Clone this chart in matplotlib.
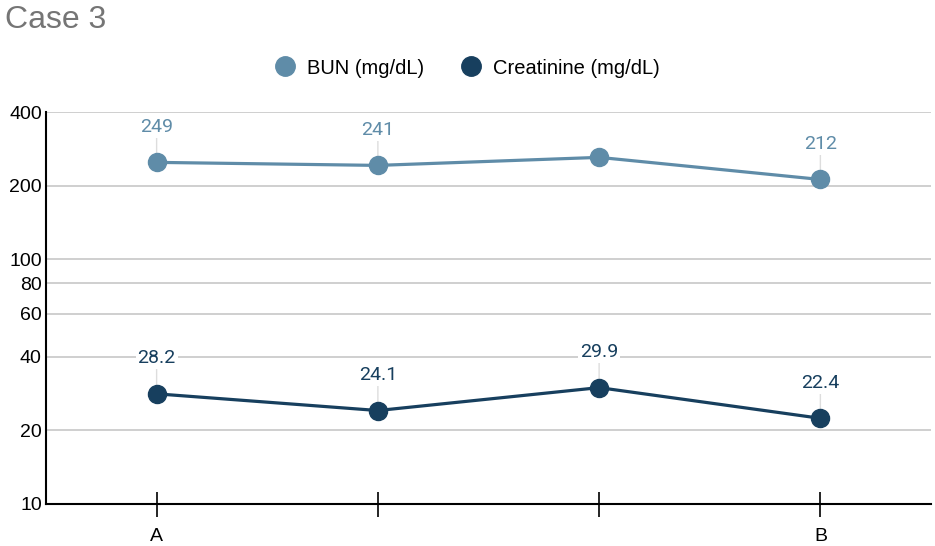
import matplotlib
matplotlib.use("Agg")
import matplotlib.pyplot as plt
from matplotlib.ticker import FixedLocator, NullLocator

# chart data
categories = ["A", "", "", "B"]
bun = [249, 242, 261, 212]
creatinine = [28.2, 24.1, 29.9, 22.4]
bun_labels = ["249", "241", "", "212"]
creatinine_labels = ["28.2", "24.1", "29.9", "22.4"]
y_ticks = [10, 20, 40, 60, 80, 100, 200, 400]

bun_color = "#5f8ca8"
creat_color = "#173f5e"

fig = plt.figure(figsize=(9.35, 5.46), dpi=100)
ax = fig.add_axes([46 / 935, 1 - 504 / 546, (931 - 46) / 935, (504 - 112) / 546])

x = list(range(len(categories)))

ax.plot(x, bun, color=bun_color, linewidth=2.3, marker="o", markersize=13,
        markeredgecolor=bun_color, label="BUN (mg/dL)", zorder=4)
ax.plot(x, creatinine, color=creat_color, linewidth=2.3, marker="o", markersize=13,
        markeredgecolor=creat_color, label="Creatinine (mg/dL)", zorder=4)

# data labels with a thin leader line
for series, labels, color in [(bun, bun_labels, bun_color),
                              (creatinine, creatinine_labels, creat_color)]:
    for xi, val, lab in zip(x, series, labels):
        if not lab:
            continue
        ax.annotate("", xy=(xi, val), xytext=(0, 18), textcoords="offset points",
                    arrowprops=dict(arrowstyle="-", color="#dddddd", lw=1,
                                    shrinkA=0, shrinkB=6), zorder=3)
        ax.annotate(lab, xy=(xi, val), xytext=(0, 19), textcoords="offset points",
                    ha="center", va="bottom", fontsize=14, color=color,
                    family="Roboto",
                    bbox=dict(boxstyle="square,pad=0.1", fc="white", ec="none"),
                    zorder=5)

ax.set_yscale("log")
ax.set_ylim(10, 400)
ax.set_xlim(-0.5, 3.5)
ax.yaxis.set_major_locator(FixedLocator(y_ticks))
ax.yaxis.set_minor_locator(NullLocator())
ax.set_yticklabels([str(t) for t in y_ticks], family="Liberation Sans", fontsize=14)
ax.set_xticks(x)
ax.set_xticklabels(categories, family="Liberation Sans", fontsize=14)
ax.tick_params(axis="y", length=0, pad=3)
ax.tick_params(axis="x", direction="inout", length=18, width=1.2, color="black", pad=8)

ax.grid(axis="y", color="#cccccc", linewidth=1.3)
ax.set_axisbelow(True)
for side in ["top", "right"]:
    ax.spines[side].set_visible(False)
ax.spines["left"].set_linewidth(1.5)
ax.spines["bottom"].set_linewidth(1.5)

leg = fig.legend(loc="center", bbox_to_anchor=(0.5, 1 - 68 / 546), ncol=2,
                 frameon=False, handlelength=1.0, handletextpad=0.6,
                 columnspacing=1.8, prop={"family": "Liberation Sans", "size": 14.5})
for h in leg.legend_handles:
    h.set_linestyle("none")
    h.set_markersize(14)

fig.text(5 / 935, 1 - 20 / 546, "Case 3", fontsize=23, color="#757575",
         family="Liberation Sans", va="center", ha="left")

fig.savefig("out.png", dpi=100)
